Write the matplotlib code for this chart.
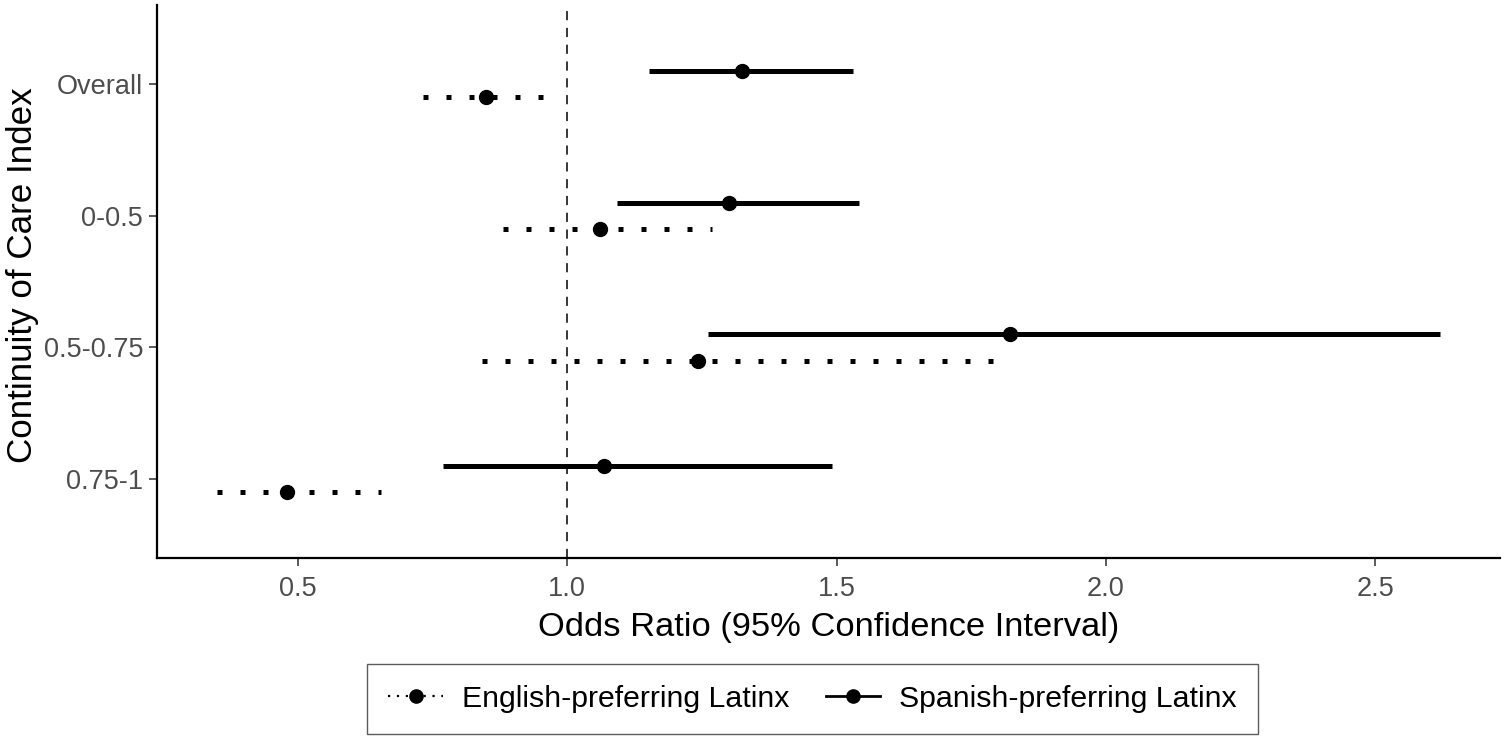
import matplotlib
matplotlib.use("Agg")
import matplotlib.pyplot as plt
from matplotlib.lines import Line2D

plt.rcParams['font.family'] = ['Liberation Sans', 'DejaVu Sans']

categories = ["Overall", "0-0.5", "0.5-0.75", "0.75-1"]
spanish_or = [1.325, 1.300, 1.822, 1.069]
spanish_lo = [1.152, 1.092, 1.261, 0.769]
spanish_hi = [1.531, 1.542, 2.620, 1.491]
english_or = [0.849, 1.061, 1.242, 0.480]
english_lo = [0.732, 0.881, 0.842, 0.349]
english_hi = [0.955, 1.269, 1.811, 0.654]
xticks = [0.5, 1.0, 1.5, 2.0, 2.5]

W, H = 1504, 736
fig = plt.figure(figsize=(W / 100, H / 100), dpi=100)
ax = fig.add_axes([157 / W, 1 - 558 / H, (1500 - 157) / W, (558 - 5) / H])

n = len(categories)
ypos = [n - 1 - i for i in range(n)]
dodge = 0.1
lw = 3.6
dot_style = (0, (1.0, 3.6))

ax.axvline(1.0, color='black', lw=1.1, ls=(0, (6, 5)), zorder=1)

for i in range(n):
    y = ypos[i]
    ax.plot([spanish_lo[i], spanish_hi[i]], [y + dodge, y + dodge], color='black',
            lw=lw, solid_capstyle='butt', zorder=2)
    ax.plot([spanish_or[i]], [y + dodge], 'o', color='black', ms=10, zorder=3)
    ax.plot([english_lo[i], english_hi[i]], [y - dodge, y - dodge], color='black',
            lw=lw, ls=dot_style, dash_capstyle='butt', zorder=2)
    ax.plot([english_or[i]], [y - dodge], 'o', color='black', ms=10, zorder=3)

ax.set_xlim(0.2382, 2.7317)
ax.set_ylim(-0.6, n - 1 + 0.6)
ax.set_yticks(ypos)
ax.set_yticklabels(categories)
ax.set_xticks(xticks)
ax.set_xticklabels([f"{v:.1f}" for v in xticks])
ax.tick_params(axis='both', labelsize=19.5, colors='#4D4D4D', length=6, width=1.3)
ax.tick_params(axis='y', pad=4)
ax.tick_params(axis='x', pad=7)
for s in ['top', 'right']:
    ax.spines[s].set_visible(False)
for s in ['left', 'bottom']:
    ax.spines[s].set_linewidth(1.6)
    ax.spines[s].set_color('black')

ax.set_xlabel("Odds Ratio (95% Confidence Interval)", fontsize=24.8, labelpad=7)
ax.set_ylabel("Continuity of Care Index", fontsize=25.2)
ax.yaxis.set_label_coords(-0.088, 0.511)

h_en = Line2D([], [], color='black', lw=1.6, ls=(0, (1.0, 3.0)), marker='o', ms=9.5)
h_sp = Line2D([], [], color='black', lw=2.0, marker='o', ms=9.5)
leg = fig.legend([h_en, h_sp], ["English-preferring Latinx", "Spanish-preferring Latinx"],
                 loc='center', bbox_to_anchor=(812.5 / W, 1 - 699 / H), ncol=2,
                 fontsize=21.8, frameon=True, fancybox=False, handlelength=1.8,
                 columnspacing=1.2, borderpad=0.69, handletextpad=0.63)
leg.get_frame().set_edgecolor('#333333')
leg.get_frame().set_linewidth(1.0)

fig.savefig("out.png", dpi=100)
